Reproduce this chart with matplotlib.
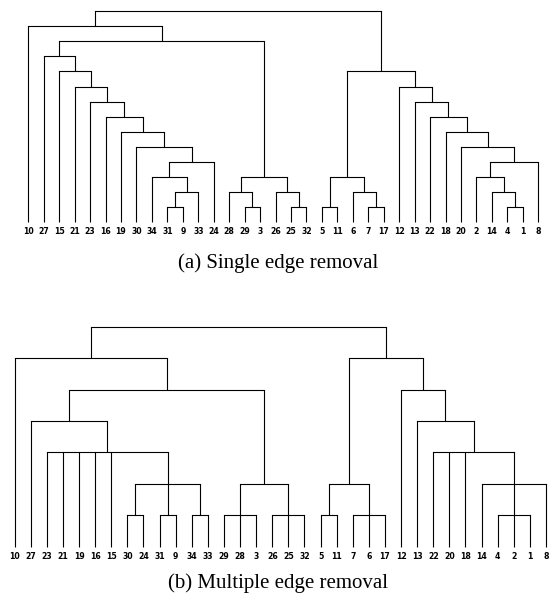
import matplotlib
matplotlib.use("Agg")
import matplotlib.pyplot as plt

# leaf order along the x axis
labels_a = ["10", "27", "15", "21", "23", "16", "19", "30", "34", "31", "9", "33",
            "24", "28", "29", "3", "26", "25", "32", "5", "11", "6", "7", "17",
            "12", "13", "22", "18", "20", "2", "14", "4", "1", "8"]
labels_b = ["10", "27", "23", "21", "19", "16", "15", "30", "24", "31", "9", "34",
            "33", "29", "28", "3", "26", "25", "32", "5", "11", "7", "6", "17",
            "12", "13", "22", "20", "18", "14", "4", "2", "1", "8"]

# merges: (cluster name, children, merge level)
merges_a = [
    ("a1", ["31", "9"], 1), ("a2", ["a1", "33"], 2), ("a3", ["34", "a2"], 3),
    ("a4", ["a3", "24"], 4), ("a5", ["30", "a4"], 5), ("a6", ["19", "a5"], 6),
    ("a7", ["16", "a6"], 7), ("a8", ["23", "a7"], 8), ("a9", ["21", "a8"], 9),
    ("a10", ["15", "a9"], 10), ("a11", ["27", "a10"], 11),
    ("b1", ["29", "3"], 1), ("b2", ["28", "b1"], 2), ("b3", ["25", "32"], 1),
    ("b4", ["26", "b3"], 2), ("b5", ["b2", "b4"], 3),
    ("a12", ["a11", "b5"], 12), ("a13", ["10", "a12"], 13),
    ("c1", ["5", "11"], 1), ("c2", ["7", "17"], 1), ("c3", ["6", "c2"], 2),
    ("c4", ["c1", "c3"], 3),
    ("d1", ["4", "1"], 1), ("d2", ["14", "d1"], 2), ("d3", ["2", "d2"], 3),
    ("d4", ["d3", "8"], 4), ("d5", ["20", "d4"], 5), ("d6", ["18", "d5"], 6),
    ("d7", ["22", "d6"], 7), ("d8", ["13", "d7"], 8), ("d9", ["12", "d8"], 9),
    ("c5", ["c4", "d9"], 10),
    ("root", ["a13", "c5"], 14),
]
merges_b = [
    ("p1", ["30", "24"], 1), ("p2", ["31", "9"], 1), ("p3", ["34", "33"], 1),
    ("p4", ["29", "28", "3"], 1), ("p5", ["26", "25", "32"], 1),
    ("p6", ["5", "11"], 1), ("p7", ["7", "6", "17"], 1), ("p8", ["4", "2", "1"], 1),
    ("q1", ["p1", "p2", "p3"], 2), ("q2", ["p4", "p5"], 2),
    ("q3", ["p6", "p7"], 2), ("q4", ["14", "p8", "8"], 2),
    ("r1", ["23", "21", "19", "16", "15", "q1"], 3),
    ("r2", ["22", "20", "18", "q4"], 3),
    ("s1", ["27", "r1"], 4), ("s2", ["13", "r2"], 4),
    ("t1", ["s1", "q2"], 5), ("t2", ["12", "s2"], 5),
    ("u1", ["10", "t1"], 6), ("u2", ["q3", "t2"], 6),
    ("root", ["u1", "u2"], 7),
]

captions = ["(a) Single edge removal", "(b) Multiple edge removal"]


def draw_dendrogram(ax, labels, merges, top):
    pos = {lab: (i, 0) for i, lab in enumerate(labels)}
    for name, children, h in merges:
        xs = [pos[c][0] for c in children]
        for c in children:
            x, y0 = pos[c]
            ax.plot([x, x], [y0, h], color="black", lw=0.8, clip_on=False,
                    solid_capstyle="butt")
        ax.plot([min(xs), max(xs)], [h, h], color="black", lw=0.8, clip_on=False,
                solid_capstyle="projecting")
        pos[name] = ((min(xs) + max(xs)) / 2, h)
    ax.set_xlim(0, len(labels) - 1)
    ax.set_ylim(0, top)
    ax.set_xticks(range(len(labels)))
    ax.set_xticklabels(labels, fontsize=5.6, fontweight="bold", family="DejaVu Sans")
    ax.tick_params(axis="x", length=0, pad=3.5)
    ax.set_yticks([])
    for s in ax.spines.values():
        s.set_visible(False)


W, H = 549, 597
fig = plt.figure(figsize=(W / 100, H / 100), dpi=100)

# axes placed in pixel terms: (left px, right px, bottom px from top, top px from top)
ax1 = fig.add_axes([28.3 / W, (H - 222) / H, (538.3 - 28.3) / W, (222 - 11.3) / H])
draw_dendrogram(ax1, labels_a, merges_a, 14)

ax2 = fig.add_axes([14.7 / W, (H - 546.7) / H, (546 - 14.7) / W, (546.7 - 326.7) / H])
draw_dendrogram(ax2, labels_b, merges_b, 7)

fig.text(278.5 / W, 1 - 263 / H, captions[0], ha="center", va="center",
         family="Liberation Serif", fontsize=15)
fig.text(278 / W, 1 - 583 / H, captions[1], ha="center", va="center",
         family="Liberation Serif", fontsize=15)

fig.savefig("out.png", dpi=100)
